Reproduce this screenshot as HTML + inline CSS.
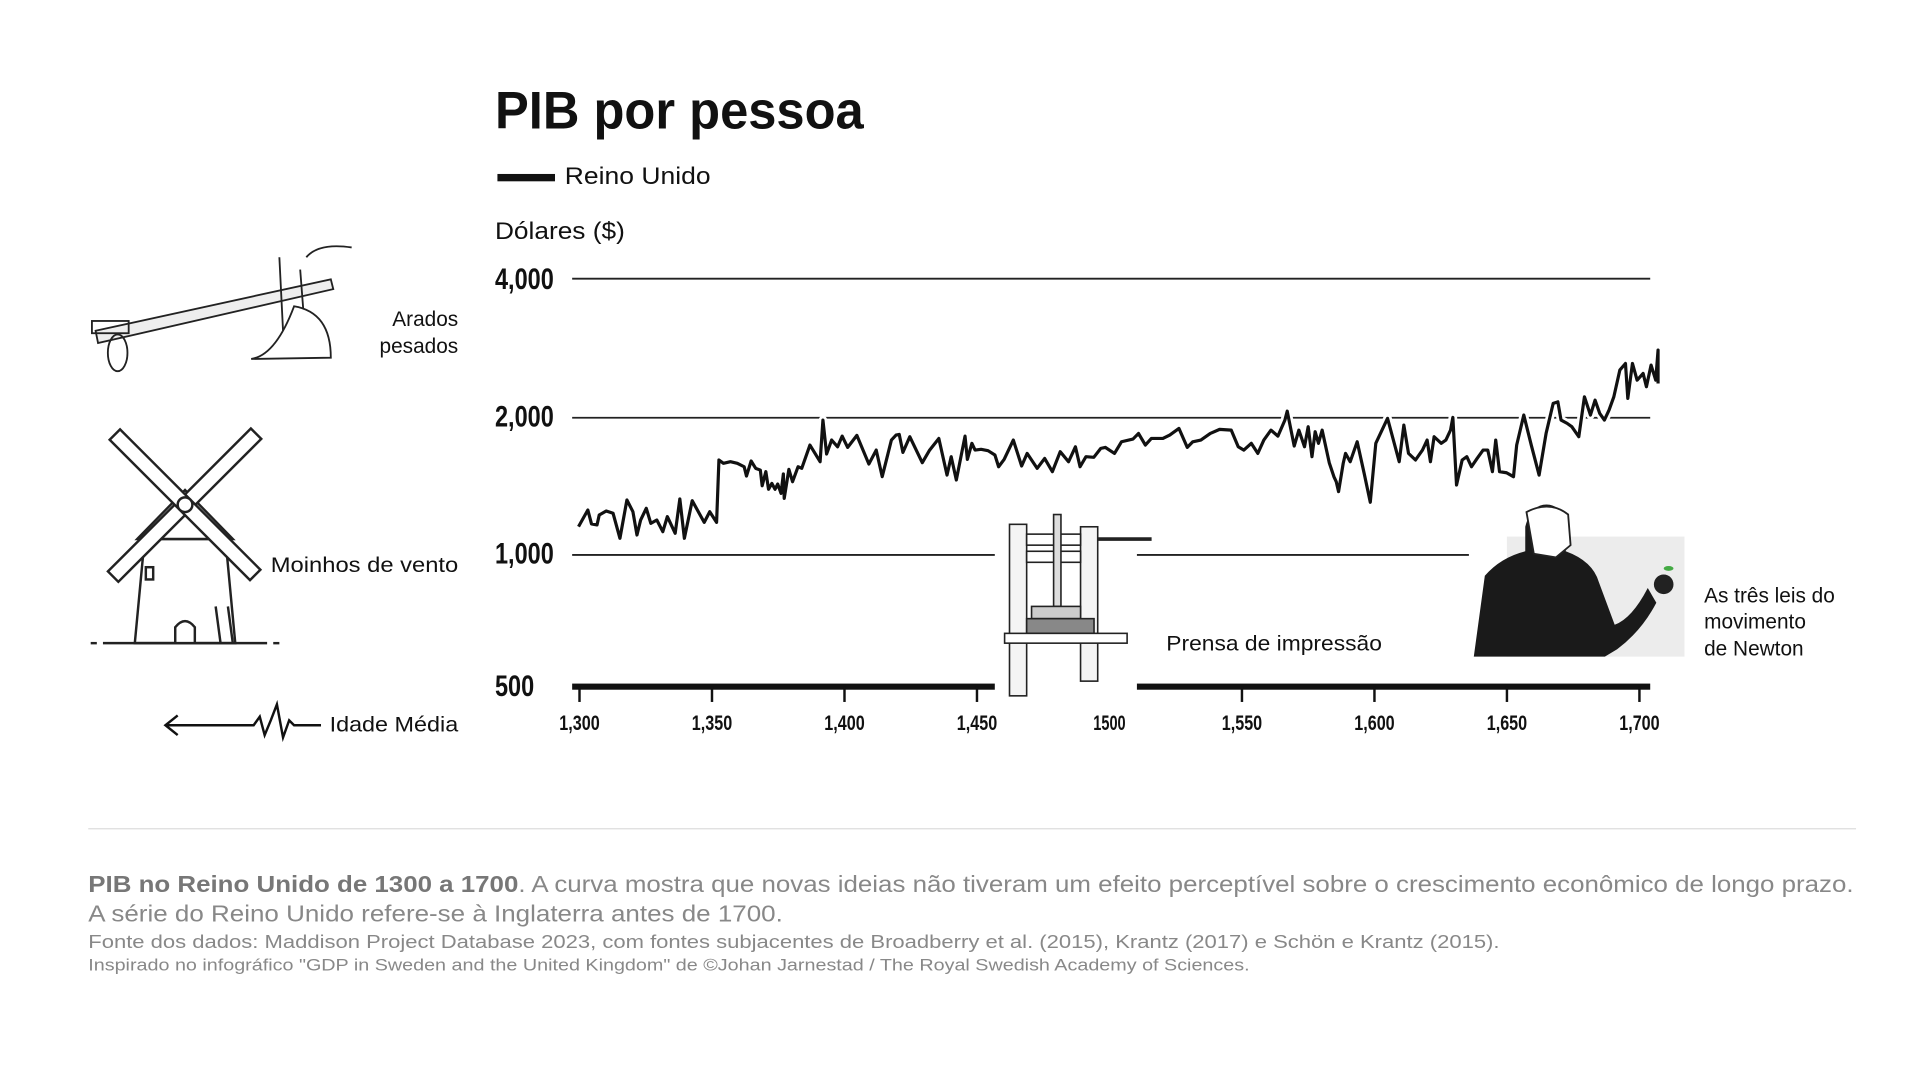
<!DOCTYPE html>
<html><head><meta charset="utf-8"><style>
html,body{margin:0;padding:0;background:#fff;}
svg{display:block;font-family:"Liberation Sans",sans-serif;}
</style></head><body>
<svg width="1921" height="1081" viewBox="0 0 1568 882.4" xmlns="http://www.w3.org/2000/svg">
<rect width="1568" height="883" fill="#fff"/>
<text x="404" y="105" font-size="43" font-weight="bold" fill="#111" textLength="301" lengthAdjust="spacingAndGlyphs">PIB por pessoa</text>
<rect x="406" y="142" width="47" height="6" fill="#111"/>
<text x="461" y="150" font-size="20" fill="#111" textLength="119" lengthAdjust="spacingAndGlyphs">Reino Unido</text>
<text x="404" y="195" font-size="20" fill="#111" textLength="106" lengthAdjust="spacingAndGlyphs">Dólares ($)</text>

<g font-weight="bold" font-size="24" fill="#111">
<text x="404" y="236" textLength="48" lengthAdjust="spacingAndGlyphs">4,000</text>
<text x="404" y="348" textLength="48" lengthAdjust="spacingAndGlyphs">2,000</text>
<text x="404" y="460" textLength="48" lengthAdjust="spacingAndGlyphs">1,000</text>
<text x="404" y="568" textLength="32" lengthAdjust="spacingAndGlyphs">500</text>
</g>
<g stroke="#222" stroke-width="1.5">
<line x1="467" y1="227.5" x2="1347" y2="227.5"/>
<line x1="467" y1="341" x2="1347" y2="341"/>
<line x1="467" y1="453" x2="1199" y2="453"/>
</g>
<rect x="467" y="558" width="880" height="5" fill="#111"/>
<g id="ticks" stroke="#111" stroke-width="2"></g>
<g id="tl" font-weight="bold" font-size="17" fill="#111" text-anchor="middle"></g>

<polyline id="halo" fill="none" stroke="#fff" stroke-width="7" stroke-linejoin="round"/>
<polyline id="ln" fill="none" stroke="#111" stroke-width="2.6" stroke-linejoin="round"/>

<!-- printing press -->
<rect x="812" y="418" width="116" height="158" fill="#fff"/>
<g stroke="#222" stroke-width="1.3" fill="#fff">
<rect x="824" y="428" width="14" height="140" fill="#f4f4f4"/>
<rect x="882" y="430" width="14" height="126" fill="#f4f4f4"/>
<rect x="838" y="436" width="44" height="9"/>
<rect x="838" y="450" width="44" height="9"/>
<rect x="860" y="420" width="6" height="75" fill="#ddd"/>
<line x1="896" y1="440" x2="940" y2="440" stroke-width="3"/>
<rect x="842" y="495" width="40" height="10" fill="#ccc"/>
<rect x="838" y="505" width="55" height="12" fill="#888"/>
<rect x="820" y="517" width="100" height="8"/>
</g>
<!-- Newton -->
<rect x="1230" y="438" width="145" height="98" fill="#ececec"/>
<path d="M1203 536 L1212 470 Q1225 455 1245 450 L1245 430 Q1250 410 1265 412 Q1282 416 1280 440 L1278 450 Q1300 458 1305 475 L1318 510 Q1332 505 1345 480 L1352 492 Q1340 515 1320 530 L1310 536 Z" fill="#1a1a1a"/>
<path d="M1246 418 Q1265 408 1280 420 L1282 445 L1270 455 L1252 452 Z" fill="#fff" stroke="#222" stroke-width="1.5"/>
<circle cx="1358" cy="477" r="8" fill="#222"/>
<ellipse cx="1362" cy="464" rx="4" ry="2" fill="#4a4"/>
<text x="952" y="531" font-size="17" fill="#111" textLength="176" lengthAdjust="spacingAndGlyphs">Prensa de impressão</text>
<text font-size="17" fill="#111"><tspan x="1391" y="492">As três leis do</tspan><tspan x="1391" y="513">movimento</tspan><tspan x="1391" y="535">de Newton</tspan></text>

<!-- plough -->
<g stroke="#222" stroke-width="1.5" fill="none">
<path d="M78 270 L270 228 L272 236 L80 280 Z" fill="#eee"/>
<path d="M228 210 L232 290 M245 220 L250 285"/>
<path d="M250 210 Q260 198 287 202"/>
<path d="M240 250 Q270 255 270 292 L205 293 Q225 290 240 250 Z" fill="#fff"/>
<ellipse cx="96" cy="288" rx="8" ry="15"/>
<rect x="75" y="262" width="30" height="10"/>
</g>
<text font-size="17" fill="#111" text-anchor="end"><tspan x="374" y="266">Arados</tspan><tspan x="374" y="288">pesados</tspan></text>

<!-- windmill -->
<g stroke="#222" stroke-width="2" fill="#fff">
<path d="M110 525 L118 440 L184 440 L192 525 Z"/>
<path d="M112 440 L151 400 L190 440 Z"/>
<g transform="rotate(45 151 412)"><rect x="145" y="330" width="12" height="165"/><rect x="70" y="406" width="162" height="12"/></g>
<circle cx="151" cy="412" r="6"/>
<path d="M143 525 L143 512 Q151 502 159 512 L159 525"/>
<rect x="119" y="463" width="6" height="10"/>
<line x1="84" y1="525" x2="218" y2="525"/>
<path d="M176 495 L180 525 M186 495 L190 525"/>
</g>
<line x1="74" y1="525" x2="79" y2="525" stroke="#222" stroke-width="2"/>
<line x1="223" y1="525" x2="228" y2="525" stroke="#222" stroke-width="2"/>
<text x="374" y="467" font-size="17" fill="#111" text-anchor="end" textLength="153" lengthAdjust="spacingAndGlyphs">Moinhos de vento</text>

<!-- arrow -->
<path d="M136 592 L207 592 L212 585 L216 600 L221 588 L226 575 L231 602 L236 588 L240 592 L262 592" fill="none" stroke="#111" stroke-width="2"/>
<path d="M145 584 L135 592 L145 600" fill="none" stroke="#111" stroke-width="2"/>
<text x="374" y="597" font-size="17" fill="#111" text-anchor="end" textLength="105" lengthAdjust="spacingAndGlyphs">Idade Média</text>

<line x1="72" y1="676.5" x2="1515" y2="676.5" stroke="#ddd" stroke-width="1"/>
<text x="72" y="728" font-size="18.5" fill="#888" textLength="1441" lengthAdjust="spacingAndGlyphs"><tspan font-weight="bold" fill="#777">PIB no Reino Unido de 1300 a 1700</tspan>. A curva mostra que novas ideias não tiveram um efeito perceptível sobre o crescimento econômico de longo prazo.</text>
<text x="72" y="752" font-size="18.5" fill="#888" textLength="567" lengthAdjust="spacingAndGlyphs">A série do Reino Unido refere-se à Inglaterra antes de 1700.</text>
<text x="72" y="774" font-size="15" fill="#888" textLength="1152" lengthAdjust="spacingAndGlyphs">Fonte dos dados: Maddison Project Database 2023, com fontes subjacentes de Broadberry et al. (2015), Krantz (2017) e Schön e Krantz (2015).</text>
<text x="72" y="792" font-size="13.5" fill="#888" textLength="948" lengthAdjust="spacingAndGlyphs">Inspirado no infográfico "GDP in Sweden and the United Kingdom" de ©Johan Jarnestad / The Royal Swedish Academy of Sciences.</text>
</svg>
<script>
var ns="http://www.w3.org/2000/svg";
function X(y){return 473+(y-1300)*2.163;}
var labels=["1,300","1,350","1,400","1,450","1500","1,550","1,600","1,650","1,700"];
for(var i=0;i<9;i++){var x=X(1300+50*i);
if(i!==4){var l=document.createElementNS(ns,"line");l.setAttribute("x1",x);l.setAttribute("x2",x);l.setAttribute("y1",560);l.setAttribute("y2",573);document.getElementById("ticks").appendChild(l);}
var t=document.createElementNS(ns,"text");t.setAttribute("x",x);t.setAttribute("y",596);t.setAttribute("textLength",labels[i].length*6.6);t.setAttribute("lengthAdjust","spacingAndGlyphs");t.textContent=labels[i];document.getElementById("tl").appendChild(t);}
var z1=[[215,590],[235,540],[243,582],[255,585],[260,555],[275,543],[290,550],[305,625],[320,510],[333,545],[342,615],[350,570],[362,535],[372,580],[385,570],[398,605],[408,560],[425,610],[435,507],[445,625],[462,512],[488,577],[500,545],[515,577],[520,390],[530,400],[545,395],[560,400],[575,410],[580,438],[590,393],[600,415],[610,420],[614,467],[622,425],[628,478],[635,460],[642,478],[648,462],[655,490],[660,432],[662,505],[672,418],[680,455],[692,410],[700,415],[718,345],[740,395],[746,270],[754,372],[765,330],[778,350],[788,318],[800,352],[820,316],[846,402],[862,360],[875,440],[895,330],[905,315],[912,313],[920,367],[935,320],[962,398],[978,360],[998,325],[1016,435],[1025,380],[1036,450],[1055,318],[1060,388],[1070,340],[1077,360],[1090,358],[1105,362],[1120,375],[1128,410],[1140,388],[1160,330],[1178,408],[1190,370],[1212,415],[1228,385],[1245,425],[1262,365],[1280,395],[1295,350],[1305,410],[1318,380],[1335,382],[1350,355],[1360,352],[1380,370],[1395,335],[1420,327],[1432,310],[1447,345],[1460,325],[1485,325],[1500,315],[1520,295],[1538,352],[1550,335]];
var z2=[[120,330],[140,310],[160,298],[185,300],[200,350],[212,360],[228,340],[242,370],[255,330],[270,300],[285,318],[300,270],[305,243],[320,348],[330,300],[342,350],[350,290],[358,380],[365,305],[372,340],[380,300],[395,398],[405,440],[410,455],[415,485],[425,400],[430,370],[440,395],[455,335],[470,430],[483,517],[495,340],[520,265],[545,395],[555,285],[565,370],[580,390],[595,360],[605,330],[612,395],[620,320],[635,340],[645,330],[655,300],[660,262],[668,465],[680,390],[690,380],[700,410],[712,385],[725,360],[735,360],[745,425],[752,330],[760,425],[775,428],[790,440],[797,345],[812,255],[828,345],[845,435],[860,310],[875,220],[885,215],[892,270],[905,280],[915,290],[930,320],[942,200],[955,255],[965,210],[975,250],[985,270],[995,240],[1005,200],[1018,120],[1030,100],[1035,205],[1045,100],[1055,150],[1068,130],[1075,170],[1085,105],[1095,150],[1100,60],[1100,160]];
var pts=[];
z1.forEach(function(p){var yr=1300+(p[0]-217)/5.76;pts.push(X(yr).toFixed(1)+","+(341+(p[1]-263)/412*112).toFixed(1));});
z2.forEach(function(p){var yr=1550+(p[0]-208)/5.68;pts.push(X(yr).toFixed(1)+","+(341+(p[1]-263)/412*112).toFixed(1));});
document.getElementById("ln").setAttribute("points",pts.join(" "));
document.getElementById("halo").setAttribute("points",pts.join(" "));
</script>
</body></html>
